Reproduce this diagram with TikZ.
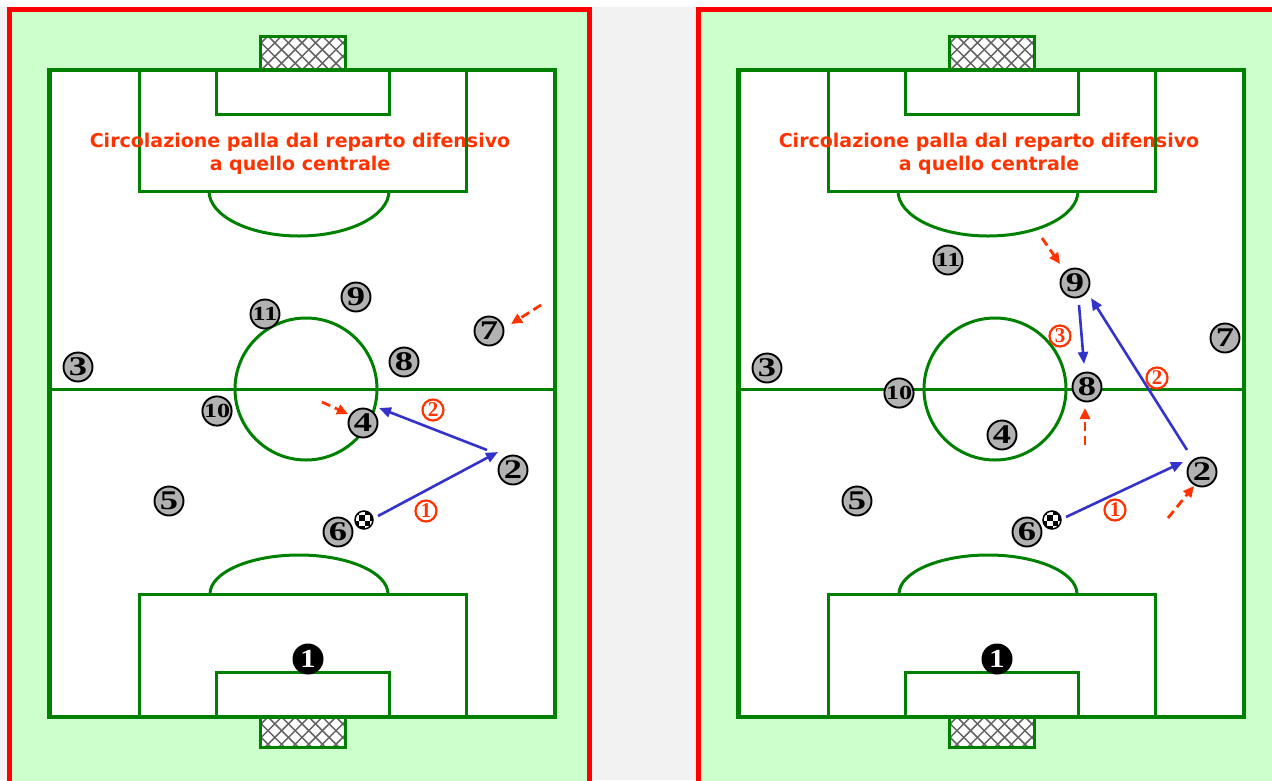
\documentclass[tikz,border=0pt]{standalone}
\usepackage{fontspec}
\usepackage{graphicx}
\usetikzlibrary{arrows.meta}
\newfontfamily\titlefont{DejaVu Sans}
\newfontfamily\numfont{Liberation Serif}
\definecolor{pitchgreen}{RGB}{0,128,0}
\definecolor{grassbg}{RGB}{204,255,204}
\definecolor{panelred}{RGB}{255,0,0}
\definecolor{gapgrey}{RGB}{242,242,242}
\definecolor{titlered}{RGB}{255,51,0}
\definecolor{arrowblue}{RGB}{51,51,204}
\definecolor{playergrey}{RGB}{178,178,178}
\definecolor{netgrey}{RGB}{100,100,100}

\newcommand{\drawfield}{%
  \fill[white] (49.5,70) rectangle (555,717);
  % goals
  \begin{scope}
    \clip (260,36) rectangle (345,70);
    \fill[white] (260,36) rectangle (345,70);
    \foreach \x in {200,213.6,...,400} {
      \draw[netline] (\x,36) -- ++(34,34);
      \draw[netline] (\x,36) -- ++(-34,34);
    }
  \end{scope}
  \draw[fieldline] (260,70) -- (260,36) -- (345,36) -- (345,70);
  \begin{scope}
    \clip (260,717) rectangle (345,747);
    \fill[white] (260,717) rectangle (345,747);
    \foreach \x in {200,213.6,...,400} {
      \draw[netline] (\x,717) -- ++(34,34);
      \draw[netline] (\x,717) -- ++(-34,34);
    }
  \end{scope}
  \draw[fieldline] (260,717) -- (260,747) -- (345,747) -- (345,717);
  % boxes
  \draw[fieldline] (139,70) rectangle (466,191);
  \draw[fieldline] (216,70) rectangle (389,114);
  \draw[fieldline] (209,191) arc[start angle=180,end angle=360,x radius=90,y radius=-45];
  \draw[fieldline] (139,717) rectangle (466,594);
  \draw[fieldline] (216,717) rectangle (389,672);
  \draw[fieldline] (210,594) arc[start angle=180,end angle=0,x radius=89,y radius=-39];
  % halfway line and circle
  \draw[fieldline] (49.5,389.5) -- (555,389.5);
  \draw[fieldline] (306,389) circle[radius=71];
  % outer
  \draw[outerline] (49.5,70) rectangle (555,717);
}

\newcommand{\ballat}[3]{%
  \begin{scope}
    \clip (#2,#3) circle[radius=9];
    \fill[white] (#2,#3) circle[radius=9];
    \foreach \i in {-2,...,1} {
      \foreach \j in {-2,...,1} {
        \pgfmathtruncatemacro{\parity}{mod(\i+\j+4,2)}
        \ifnum\parity=0
          \fill[black] ({#2+\i*5.5+0.5},{#3+\j*5.5+0.5}) rectangle ++(5.5,5.5);
        \fi
      }
    }
  \end{scope}
  \node[ballnode] (#1) at (#2,#3) {};
}

\begin{document}
\begin{tikzpicture}[x=1pt,y=-1pt,
  fieldline/.style={draw=pitchgreen,line width=3pt},
  outerline/.style={draw=pitchgreen,line width=4.5pt},
  netline/.style={draw=netgrey,line width=1.5pt},
  player/.style={circle,draw=black,line width=1.9pt,fill=playergrey,minimum size=29pt,inner sep=0pt,
    font=\numfont\bfseries\fontsize{27}{27}\selectfont},
  playertwo/.style={player,font=\numfont\bfseries\fontsize{20}{20}\selectfont},
  keeper/.style={circle,fill=black,minimum size=31pt,inner sep=0pt,text=white,
    font=\numfont\bfseries\fontsize{26}{26}\selectfont},
  ballnode/.style={circle,draw=black,line width=1.5pt,minimum size=18pt,inner sep=0pt},
  seqnum/.style={circle,draw=titlered,line width=2.2pt,minimum size=21pt,inner sep=0pt,text=titlered,
    font=\numfont\bfseries\fontsize{21}{21}\selectfont},
  pass/.style={draw=arrowblue,line width=2.6pt,-{Triangle[length=12pt,width=10pt]}},
  run/.style={draw=titlered,line width=2.8pt,dash pattern=on 9pt off 5pt,-{Triangle[length=11pt,width=10pt]}},
  titletext/.style={anchor=base,text=titlered,font=\titlefont\bfseries\fontsize{19}{22}\selectfont},
]
\useasboundingbox (0,0) rectangle (1272,780);
\fill[white] (0,0) rectangle (1272,780);
\fill[gapgrey] (0,7) rectangle (1272,780);
% panels
\fill[grassbg] (7,7) rectangle (592,785);
\draw[panelred,line width=5pt] (9.5,785) -- (9.5,9.5) -- (589.5,9.5) -- (589.5,785);
\fill[grassbg] (696,7) rectangle (1280,785);
\draw[panelred,line width=5pt] (698.5,785) -- (698.5,9.5) -- (1280,9.5);

% ---------------- left panel ----------------
\drawfield
\node[titletext] (Ltitle1) at (300,147) {Circolazione palla dal reparto difensivo};
\node[titletext] (Ltitle2) at (300,170) {a quello centrale};

\node[player] (L3) at (78,367) {\scalebox{1.35}[1]{3}};
\node[playertwo] (L11) at (265,314) {\scalebox{1.3}[1]{11}};
\node[player] (L9) at (356,297) {\scalebox{1.35}[1]{9}};
\node[player] (L7) at (489,331) {\scalebox{1.35}[1]{7}};
\node[player] (L8) at (404,362) {\scalebox{1.35}[1]{8}};
\node[playertwo] (L10) at (217,411) {\scalebox{1.3}[1]{10}};
\node[player] (L4) at (363,423) {\scalebox{1.35}[1]{4}};
\node[player] (L2) at (513,470) {\scalebox{1.35}[1]{2}};
\node[player] (L5) at (169,501) {\scalebox{1.35}[1]{5}};
\node[player] (L6) at (338,532) {\scalebox{1.35}[1]{6}};
\node[keeper] (L1) at (308,659) {\scalebox{1.2}[1]{1}};
\ballat{Lball}{364}{520}

\coordinate (La1s) at (378,516);
\coordinate (La1e) at (498,452);
\coordinate (La2s) at (487,450);
\coordinate (La2e) at (379,408);
\coordinate (Lr1s) at (322,402);
\coordinate (Lr1e) at (348,414);
\coordinate (Lr2s) at (541,305);
\coordinate (Lr2e) at (511,324);
\draw[pass] (La1s) -- (La1e);
\draw[pass] (La2s) -- (La2e);
\draw[run] (Lr1s) -- (Lr1e);
\draw[run] (Lr2s) -- (Lr2e);
\node[seqnum] (Ls1) at (426,511) {1};
\node[seqnum] (Ls2) at (433,410) {2};

% ---------------- right panel ----------------
\begin{scope}[xshift=689pt]
\drawfield
\node[titletext] (Rtitle1) at (300,147) {Circolazione palla dal reparto difensivo};
\node[titletext] (Rtitle2) at (300,170) {a quello centrale};
\end{scope}

\node[playertwo] (R11) at (948,260) {\scalebox{1.3}[1]{11}};
\node[player] (R9) at (1075,283) {\scalebox{1.35}[1]{9}};
\node[player] (R7) at (1225,338) {\scalebox{1.35}[1]{7}};
\node[player] (R3) at (767,368) {\scalebox{1.35}[1]{3}};
\node[playertwo] (R10) at (899,393) {\scalebox{1.3}[1]{10}};
\node[player] (R8) at (1087,387) {\scalebox{1.35}[1]{8}};
\node[player] (R4) at (1002,435) {\scalebox{1.35}[1]{4}};
\node[player] (R2) at (1202,472) {\scalebox{1.35}[1]{2}};
\node[player] (R5) at (857,501) {\scalebox{1.35}[1]{5}};
\node[player] (R6) at (1027,532) {\scalebox{1.35}[1]{6}};
\node[keeper] (R1) at (997,659) {\scalebox{1.2}[1]{1}};
\ballat{Rball}{1052}{520}

\coordinate (Ra1s) at (1066,517);
\coordinate (Ra1e) at (1183,462);
\coordinate (Ra2s) at (1187,450);
\coordinate (Ra2e) at (1091,298);
\coordinate (Ra3s) at (1079,305);
\coordinate (Ra3e) at (1084,364);
\coordinate (Rr1s) at (1042,238);
\coordinate (Rr1e) at (1060,264);
\coordinate (Rr2s) at (1085,445);
\coordinate (Rr2e) at (1085,408);
\coordinate (Rr3s) at (1168,518);
\coordinate (Rr3e) at (1194,486);
\draw[pass] (Ra1s) -- (Ra1e);
\draw[pass] (Ra2s) -- (Ra2e);
\draw[pass] (Ra3s) -- (Ra3e);
\draw[run] (Rr1s) -- (Rr1e);
\draw[run] (Rr2s) -- (Rr2e);
\draw[run] (Rr3s) -- (Rr3e);
\node[seqnum] (Rs1) at (1115,510) {1};
\node[seqnum] (Rs2) at (1157,378) {2};
\node[seqnum] (Rs3) at (1060,336) {3};
\end{tikzpicture}
\end{document}
